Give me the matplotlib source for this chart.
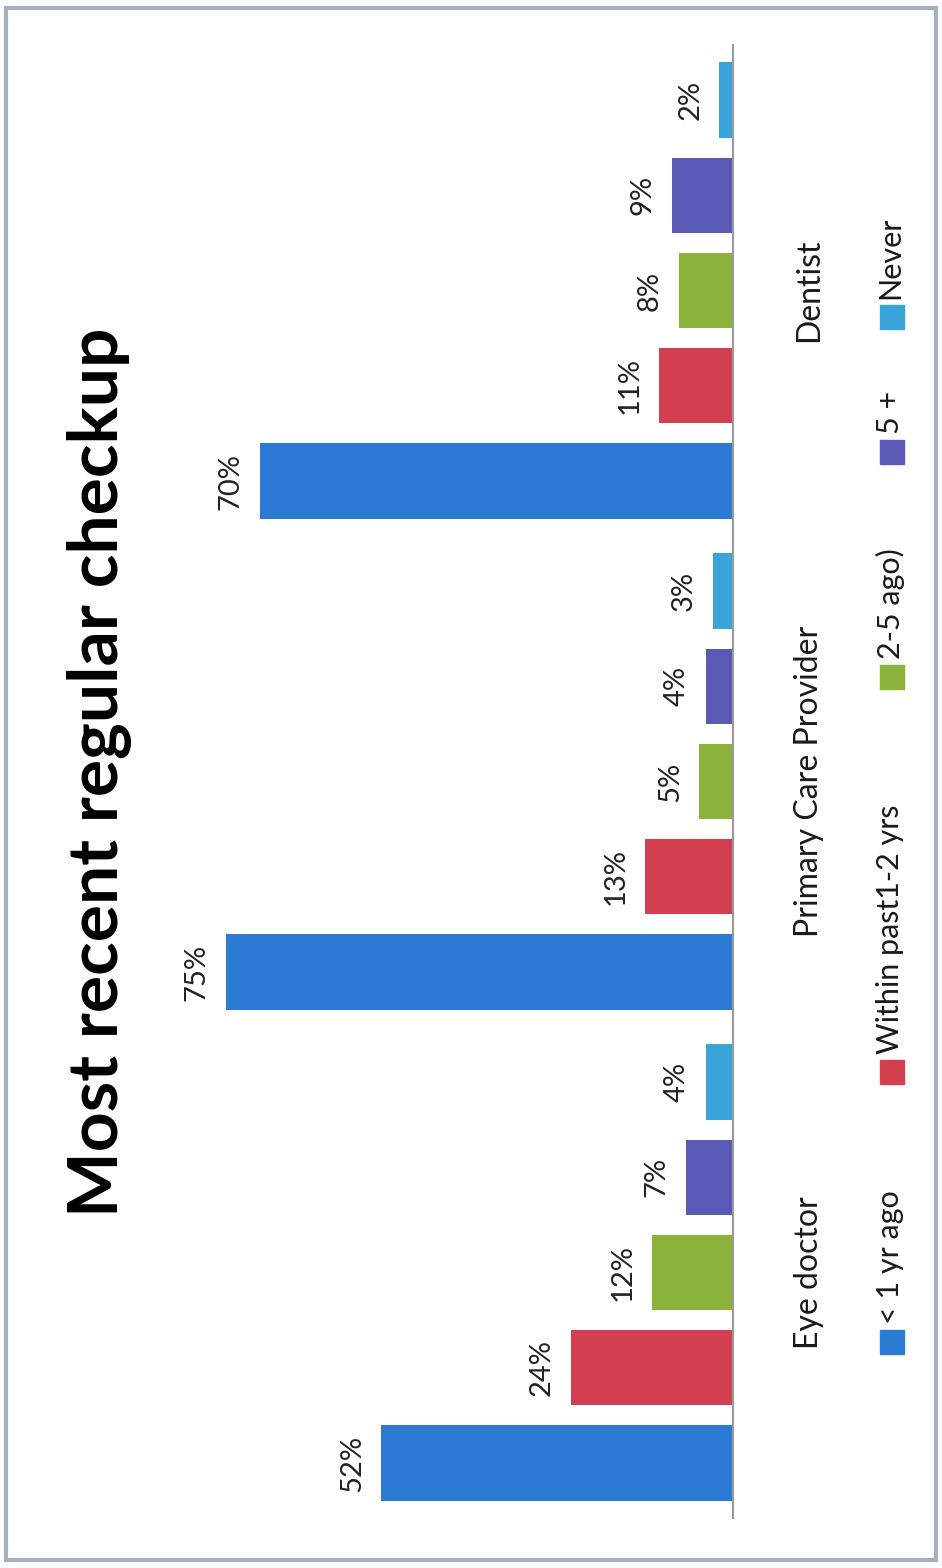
import matplotlib
matplotlib.use("Agg")
import matplotlib.pyplot as plt
import matplotlib.patches as patches
import numpy as np

categories = ["Eye doctor", "Primary Care Provider", "Dentist"]
series_names = ["< 1 yr ago", "Within past1-2 yrs", "2-5 ago)", "5 +", "Never"]
lt_1yr = [52, 75, 70]
past_1_2 = [24, 13, 11]
ago_2_5 = [12, 5, 8]
five_plus = [7, 4, 9]
never = [4, 3, 2]
series_values = [lt_1yr, past_1_2, ago_2_5, five_plus, never]
colors = ["#2b7bd4", "#d23f4e", "#8bb23a", "#5a5ab6", "#3aa4d8"]

plt.rcParams['font.family'] = ['Lato', 'DejaVu Sans']

W, H = 942, 1568
fig = plt.figure(figsize=(W / 100, H / 100), dpi=100)
fig.patch.set_facecolor('white')

# chart is drawn sideways: bars grow to the left from a baseline on the right
ax = fig.add_axes([150 / W, 50 / H, (733 - 150) / W, 1473 / H])
y = np.arange(len(categories))
pitch = 0.194
width = 0.153
for i, (vals, col) in enumerate(zip(series_values, colors)):
    pos = y + (i - 2) * pitch
    ax.barh(pos, vals, height=width, color=col)
    for p, v in zip(pos, vals):
        ax.annotate(f"{v}%", xy=(v, p), xytext=(-21, 0), textcoords='offset points',
                    rotation=90, ha='center', va='center', fontsize=21, color='#222222')

ax.set_xlim(86.2, 0)
ax.set_ylim(-0.5, 2.5)
for s in ['top', 'bottom', 'left']:
    ax.spines[s].set_visible(False)
ax.spines['right'].set_color('#9a9a9a')
ax.spines['right'].set_linewidth(1.5)
ax.set_xticks([])
ax.yaxis.tick_right()
ax.set_yticks(y)
ax.set_yticklabels(categories, rotation=90, va='center', fontsize=23, color='#1a1a1a')
ax.tick_params(axis='y', length=0, pad=44)

# title
fig.text(100 / W, 1 - 772 / H, "Most recent regular checkup", rotation=90,
         ha='center', va='center', fontsize=50, fontweight='bold', color='black')

# legend drawn by hand (rotated)
sq_y = [1342, 1072, 677, 452, 317]
for name, col, yy in zip(series_names, colors, sq_y):
    fig.add_artist(patches.Rectangle(((880) / W, 1 - (yy + 12) / H), 24 / W, 24 / H,
                                     transform=fig.transFigure, color=col))
    fig.text(890 / W, 1 - (yy - 18) / H, name, rotation=90, ha='center', va='bottom',
             fontsize=22, color='#1a1a1a')

# outer border
fig.add_artist(patches.Rectangle((6 / W, 8 / H), 1 - 12 / W, 1 - 16 / H,
                                 transform=fig.transFigure, fill=False,
                                 edgecolor='#a7b0c0', linewidth=3))

fig.savefig("out.png", dpi=100)
